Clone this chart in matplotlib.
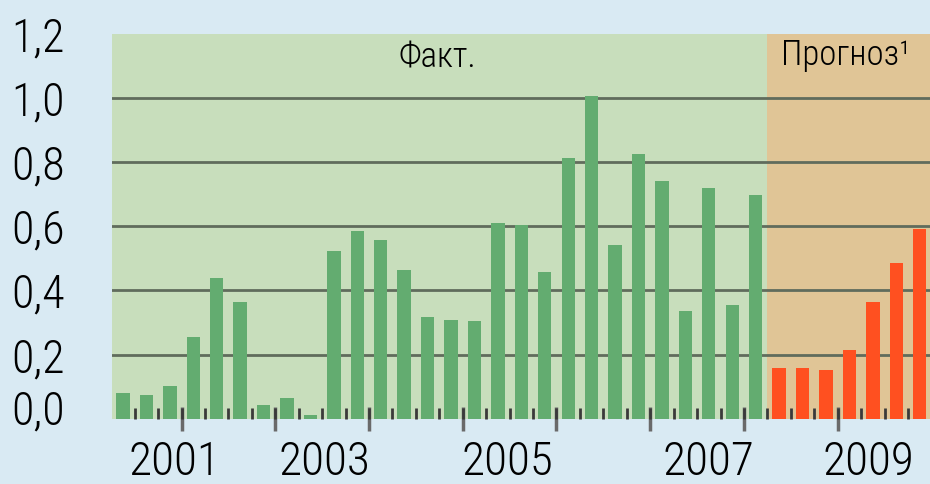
import matplotlib
matplotlib.use('Agg')
import matplotlib.pyplot as plt
from matplotlib import transforms
from matplotlib.ticker import FixedLocator, NullFormatter

plt.rcParams['font.family'] = ['Roboto Condensed', 'PT Sans Narrow', 'DejaVu Sans']
plt.rcParams['font.weight'] = 'light'

# quarterly values, 2001Q2 .. 2008Q1 (fact) and 2008Q2 .. 2009Q4 (forecast)
fact = [0.079, 0.074, 0.103, 0.256, 0.439, 0.363, 0.043, 0.064, 0.012,
        0.522, 0.584, 0.556, 0.465, 0.317, 0.308, 0.306, 0.611, 0.605,
        0.459, 0.812, 1.006, 0.541, 0.826, 0.743, 0.336, 0.720, 0.355, 0.699]
forecast = [0.157, 0.159, 0.152, 0.215, 0.363, 0.486, 0.593]

years = ['2001', '2003', '2005', '2007', '2009']
year_pos = [2.2, 8.6, 16.4, 25.0, 31.8]
yvals = [0.0, 0.2, 0.4, 0.6, 0.8, 1.0, 1.2]
ylabels = ['0,0', '0,2', '0,4', '0,6', '0,8', '1,0', '1,2']

n_fact = len(fact)
n_all = n_fact + len(forecast)
x_fact = list(range(n_fact))
x_fore = list(range(n_fact, n_all))

fig = plt.figure(figsize=(9.3, 4.84), dpi=100, facecolor='#D9EAF3')
ax = fig.add_axes([0.1204, 0.1349, 0.8796, 0.7948])
ax.set_facecolor('#D9EAF3')

ax.axvspan(-0.5, n_fact - 0.5, color='#C8DEBC', zorder=0, lw=0)
ax.axvspan(n_fact - 0.5, n_all + 0.5, color='#E0C596', zorder=0, lw=0)

ax.bar(x_fact, fact, width=0.57, color='#63AC70', zorder=2)
ax.bar(x_fore, forecast, width=0.57, color='#FF5020', zorder=2)

ax.set_xlim(-0.47, n_all - 0.56)
ax.set_ylim(0, 1.2)

for s in ax.spines.values():
    s.set_visible(False)

ax.set_yticks(yvals)
ax.set_yticklabels(ylabels, fontsize=33)
ax.tick_params(axis='y', length=0, pad=34)
ax.yaxis.grid(True, color='#606C5C', lw=2.0, zorder=1)
ax.set_axisbelow(True)
gl = ax.get_ygridlines()
gl[0].set_visible(False)
gl[-1].set_visible(False)
lab0 = ax.get_yticklabels()[0]
lab0.set_transform(lab0.get_transform() +
                   transforms.ScaledTranslation(0, 12 / 100, fig.dpi_scale_trans))

ax.set_xticks(year_pos)
ax.set_xticklabels(years, fontsize=34)
ax.tick_params(axis='x', which='major', length=0, pad=15)
ax.xaxis.set_minor_locator(FixedLocator([i - 0.5 for i in range(n_all + 1)]))
ax.xaxis.set_minor_formatter(NullFormatter())
ax.tick_params(axis='x', which='minor', direction='in', length=8, width=2,
               color='#3A3A3A')

sec = ax.secondary_xaxis('bottom')
sec.set_xticks([i - 0.5 for i in range(3, n_all, 4)])
sec.set_xticklabels([])
sec.tick_params(direction='inout', length=17, width=2.5, color='#6A6A6A')
sec.spines['bottom'].set_visible(False)

ax.text(13.4, 1.127, 'Факт.', fontsize=25, ha='center', va='center', zorder=3)
ax.text(28.1, 1.135, 'Прогноз¹', fontsize=25, ha='left', va='center', zorder=3)

fig.savefig('out.png', dpi=100, facecolor=fig.get_facecolor())
